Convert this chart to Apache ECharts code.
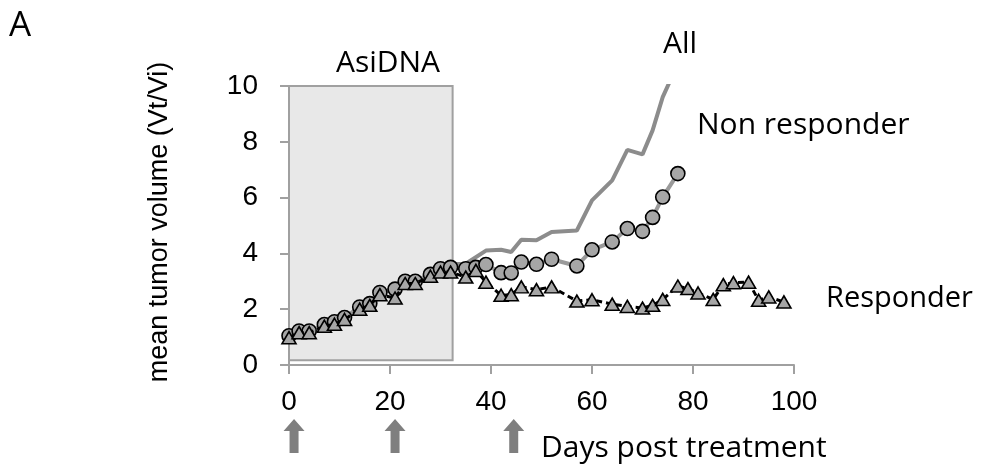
<!DOCTYPE html>
<html>
<head>
<meta charset="utf-8">
<script src="https://cdn.jsdelivr.net/npm/echarts@6/dist/echarts.min.js"></script>
<style>
  html, body { margin: 0; padding: 0; background: #fff; }
  #chart { width: 990px; height: 471px; }
</style>
</head>
<body>
<div id="chart"></div>
<script>
// days post treatment / mean tumor volume (Vt/Vi)
var allDays = [0, 2, 4, 7, 9, 11, 14, 16, 18, 21, 23, 25, 28, 30, 32, 35, 39, 42, 44, 46, 49, 52, 57, 60, 64, 67, 70, 72, 74, 77];
var allVals = [1.0, 1.17, 1.2, 1.42, 1.5, 1.68, 2.05, 2.18, 2.55, 2.78, 3.0, 3.02, 3.25, 3.42, 3.62, 3.63, 4.1, 4.13, 4.05, 4.49, 4.47, 4.77, 4.82, 5.9, 6.62, 7.71, 7.55, 8.41, 9.6, 10.8];

var nonDays = [0, 2, 4, 7, 9, 11, 14, 16, 18, 21, 23, 25, 28, 30, 32, 35, 37, 39, 42, 44, 46, 49, 52, 57, 60, 64, 67, 70, 72, 74, 77];
var nonVals = [1.05, 1.22, 1.22, 1.45, 1.55, 1.7, 2.08, 2.2, 2.6, 2.72, 3.0, 3.0, 3.25, 3.45, 3.5, 3.45, 3.5, 3.6, 3.31, 3.3, 3.69, 3.61, 3.79, 3.55, 4.13, 4.41, 4.89, 4.79, 5.29, 6.02, 6.86];

var respDays = [0, 2, 4, 7, 9, 11, 14, 16, 18, 21, 23, 25, 28, 30, 32, 35, 37, 39, 42, 44, 46, 49, 52, 57, 60, 64, 67, 70, 72, 74, 77, 79, 81, 84, 86, 88, 91, 93, 95, 98];
var respVals = [0.98, 1.16, 1.16, 1.39, 1.46, 1.63, 2.0, 2.14, 2.52, 2.4, 2.92, 2.92, 3.18, 3.33, 3.33, 3.15, 3.39, 2.97, 2.5, 2.52, 2.8, 2.7, 2.8, 2.29, 2.34, 2.18, 2.1, 2.04, 2.14, 2.35, 2.83, 2.74, 2.58, 2.35, 2.88, 2.95, 2.97, 2.32, 2.44, 2.26];

var xTicks = [0, 20, 40, 60, 80, 100];
var yTicks = [0, 2, 4, 6, 8, 10];

// treatment window (days) and dosing arrows
var boxStart = -0.35, boxEnd = 32.4;
var arrowDays = [1, 21, 44.5];

function pairs(xs, ys) {
  return xs.map(function (x, i) { return [x, ys[i]]; });
}

var grey = '#a0a0a0';
var labelFont = 'Liberation Sans, Arial, sans-serif';
var noteFont = 'Open Sans, sans-serif';

var chart = echarts.init(document.getElementById('chart'));

chart.setOption({
  animation: false,
  backgroundColor: '#fff',
  grid: { left: 289, right: 196, top: 86, bottom: 106 },
  xAxis: {
    type: 'value',
    min: xTicks[0],
    max: xTicks[xTicks.length - 1],
    interval: 20,
    axisLine: { show: true, lineStyle: { color: grey, width: 2 } },
    axisTick: { show: true, inside: false, length: 9, lineStyle: { color: grey, width: 2 } },
    axisLabel: { color: '#000', fontSize: 28, fontFamily: labelFont, margin: 23 },
    splitLine: { show: false }
  },
  yAxis: {
    type: 'value',
    min: yTicks[0],
    max: yTicks[yTicks.length - 1],
    interval: 2,
    axisLine: { show: true, lineStyle: { color: grey, width: 2 } },
    axisTick: { show: true, inside: false, length: 9, lineStyle: { color: grey, width: 2 } },
    axisLabel: { color: '#000', fontSize: 28, fontFamily: labelFont, margin: 31 },
    splitLine: { show: false }
  },
  series: [
    {
      // just carries the AsiDNA treatment box
      type: 'line',
      data: [],
      z: 1,
      clip: false,
      silent: true,
      markArea: {
        silent: true,
        itemStyle: { color: '#e8e8e8', borderColor: grey, borderWidth: 2 },
        label: { show: false },
        data: [[{ coord: [boxStart, 0.17] }, { coord: [boxEnd, 10] }]]
      }
    },
    {
      name: 'All',
      type: 'line',
      z: 2,
      data: pairs(allDays, allVals),
      showSymbol: false,
      symbol: 'none',
      lineStyle: { color: '#8c8c8c', width: 4 }
    },
    {
      name: 'Non responder',
      type: 'line',
      z: 3,
      data: pairs(nonDays, nonVals),
      symbol: 'circle',
      symbolSize: 14,
      lineStyle: { color: '#9a9a9a', width: 4 },
      itemStyle: { color: '#a6a6a6', borderColor: '#000', borderWidth: 1.6 }
    },
    {
      name: 'Responder',
      type: 'line',
      z: 4,
      data: pairs(respDays, respVals),
      symbol: 'triangle',
      symbolSize: [14, 12],
      lineStyle: { color: '#000', width: 3, type: [6, 4] },
      itemStyle: { color: '#a6a6a6', borderColor: '#000', borderWidth: 1.6 }
    }
  ]
});

var texts = [
  { text: 'A', x: 20, y: 26, size: 35, align: 'center' },
  { text: 'AsiDNA', x: 388, y: 63, size: 30, align: 'center' },
  { text: 'All', x: 680, y: 44, size: 30, align: 'center' },
  { text: 'Non responder', x: 697, y: 125, size: 30, align: 'left' },
  { text: 'Responder', x: 826, y: 299, size: 29, align: 'left' },
  { text: 'Days post treatment', x: 541, y: 448, size: 30, align: 'left' }
];

var graphics = texts.map(function (t) {
  return {
    type: 'text',
    x: t.x,
    y: t.y,
    z: 10,
    style: {
      text: t.text,
      fill: '#000',
      font: t.size + 'px ' + noteFont,
      textAlign: t.align,
      textVerticalAlign: 'middle'
    }
  };
});

graphics.push({
  type: 'text',
  x: 160,
  y: 222,
  rotation: Math.PI / 2,
  z: 10,
  style: {
    text: 'mean tumor volume (Vt/Vi)',
    fill: '#000',
    font: '27px ' + labelFont,
    textAlign: 'center',
    textVerticalAlign: 'middle'
  }
});

arrowDays.forEach(function (d) {
  var px = chart.convertToPixel({ xAxisIndex: 0 }, d);
  graphics.push({
    type: 'polygon',
    z: 10,
    shape: {
      points: [
        [px, 419], [px + 10.5, 431], [px + 4.5, 431], [px + 4.5, 453],
        [px - 4.5, 453], [px - 4.5, 431], [px - 10.5, 431]
      ]
    },
    style: { fill: '#7f7f7f' }
  });
});

chart.setOption({ graphic: graphics });
</script>
</body>
</html>
